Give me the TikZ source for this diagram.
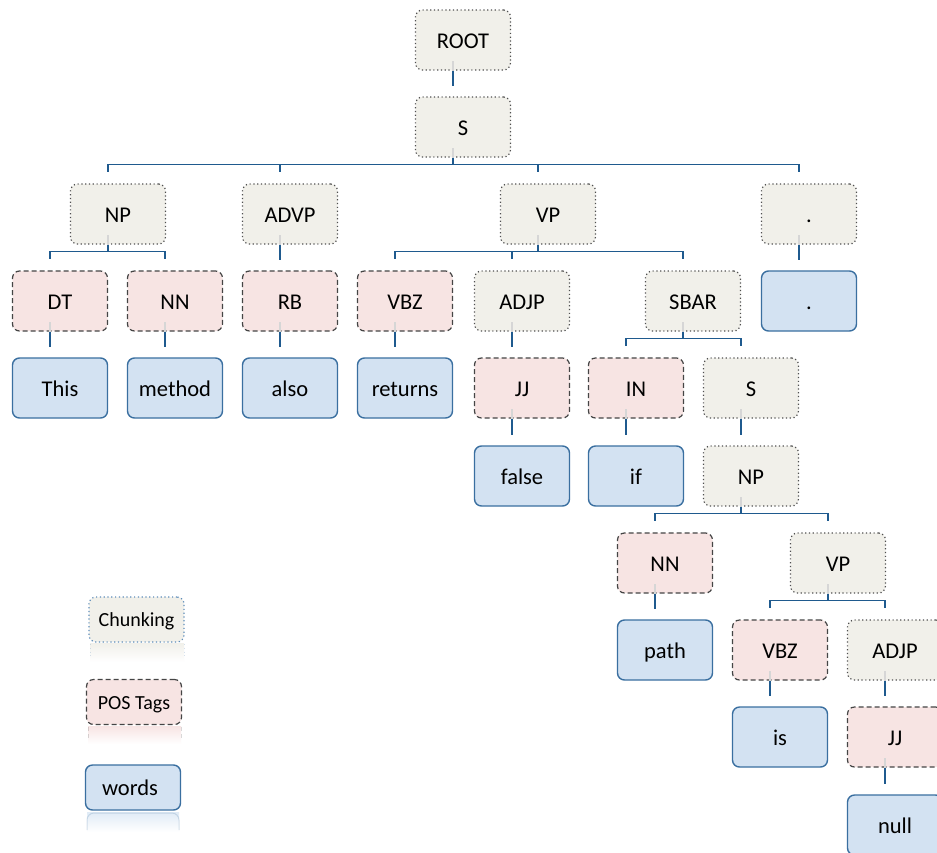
\documentclass[tikz,border=0pt]{standalone}
\usepackage{fontspec}
\setmainfont{Carlito}
\definecolor{chunkfill}{HTML}{F1F0EA}
\definecolor{chunkline}{HTML}{505050}
\definecolor{legendchunkline}{HTML}{5E8DBA}
\definecolor{posfill}{HTML}{F7E4E3}
\definecolor{posline}{HTML}{454545}
\definecolor{wordfill}{HTML}{D3E2F2}
\definecolor{wordline}{HTML}{3A6FA0}
\definecolor{connblue}{HTML}{1F5A8E}
\definecolor{tickgray}{HTML}{D6D6D6}
% one parent, one child: drop straight down
\newcommand\onechild[2]{%
  \draw[inner tick] ([xshift=-10pt]#1.south) -- ++(0,-10);
  \draw[conn] ([xshift=-10pt]#1.south) -- ([xshift=-10pt,yshift=10pt]#2.north);}
% one parent, several children: bar and ticks
\newcommand\kids[2]{%
  \draw[inner tick] ([xshift=-10pt]#1.south) -- ++(0,-10);
  \draw[conn] ([xshift=-10pt]#1.south) -- ++(0,7) coordinate (bar-#1);
  \foreach \kid in {#2}{\draw[conn] (bar-#1) -| ([xshift=-10pt,yshift=11pt]\kid.north);}}
\begin{document}
\begin{tikzpicture}[x=1pt,y=-1pt,
  box/.style={rectangle, rounded corners=7pt, minimum width=95pt, minimum height=60pt,
    inner sep=0pt, line width=1.2pt, text height=16pt, text depth=0pt,
    font=\fontsize{22.5}{27}\selectfont},
  chunkbox/.style={box, fill=chunkfill, draw=chunkline, dash pattern=on 1.2pt off 2.6pt},
  posbox/.style={box, fill=posfill, draw=posline, dash pattern=on 5pt off 3pt},
  wordbox/.style={box, fill=wordfill, draw=wordline, line width=1.4pt},
  legendbox/.style={minimum height=45pt, text height=14pt, font=\fontsize{20}{24}\selectfont},
  conn/.style={draw=connblue, line width=1.6pt},
  inner tick/.style={draw=tickgray, line width=1.6pt},
]
\useasboundingbox[fill=white] (0,0) rectangle (937,852);

% phrase tree
\node[chunkbox] (root) at (463,40) {ROOT};
\node[chunkbox] (s) at (463,127) {S};

\node[chunkbox] (np) at (118,214) {NP};
\node[chunkbox] (advp) at (290,214) {ADVP};
\node[chunkbox] (vp) at (548,214) {VP};
\node[chunkbox] (dotc) at (809,214) {.};

\node[posbox] (dt) at (60,301) {DT};
\node[posbox] (nn) at (175,301) {NN};
\node[posbox] (rb) at (290,301) {RB};
\node[posbox] (vbz) at (405,301) {VBZ};
\node[chunkbox] (adjp) at (522,301) {ADJP};
\node[chunkbox] (sbar) at (693,301) {SBAR};
\node[wordbox] (dotw) at (809,301) {.};

\node[wordbox] (this) at (60,388) {This};
\node[wordbox] (method) at (175,388) {method};
\node[wordbox] (also) at (290,388) {also};
\node[wordbox] (returns) at (405,388) {returns};
\node[posbox] (jj) at (522,388) {JJ};
\node[posbox] (in) at (636,388) {IN};
\node[chunkbox] (s2) at (751,388) {S};

\node[wordbox] (false) at (522,476) {false};
\node[wordbox] (if) at (636,476) {if};
\node[chunkbox] (np2) at (751,476) {NP};

\node[posbox] (nn2) at (665,563) {NN};
\node[chunkbox] (vp2) at (838,563) {VP};

\node[wordbox] (path) at (665,650) {path};
\node[posbox] (vbz2) at (780,650) {VBZ};
\node[chunkbox] (adjp2) at (895,650) {ADJP};

\node[wordbox] (is) at (780,737) {is};
\node[posbox] (jj2) at (895,737) {JJ};

\node[wordbox] (null) at (895,825) {null};

% connectors
\onechild{root}{s}
\kids{s}{np,advp,vp,dotc}
\kids{np}{dt,nn}
\onechild{advp}{rb}
\kids{vp}{vbz,adjp,sbar}
\onechild{dotc}{dotw}
\onechild{dt}{this}
\onechild{nn}{method}
\onechild{rb}{also}
\onechild{vbz}{returns}
\onechild{adjp}{jj}
\kids{sbar}{in,s2}
\onechild{jj}{false}
\onechild{in}{if}
\onechild{s2}{np2}
\kids{np2}{nn2,vp2}
\onechild{nn2}{path}
\kids{vp2}{vbz2,adjp2}
\onechild{vbz2}{is}
\onechild{adjp2}{jj2}
\onechild{jj2}{null}

% legend with faint reflections
\shade[top color=chunkfill, bottom color=white] (90,643) rectangle (184,662);
\draw[legendchunkline, opacity=0.25, line width=1pt, dash pattern=on 1.2pt off 2.6pt]
  (90,644) -- (90,656) (184,644) -- (184,656);
\shade[top color=posfill, bottom color=white] (88,726) rectangle (181,744);
\draw[posline, opacity=0.2, line width=1pt, dash pattern=on 4pt off 3pt]
  (88,727) -- (88,740) (181,727) -- (181,740);
\shade[top color=wordfill!70, bottom color=white] (87,812) rectangle (179,832);
\draw[wordline, opacity=0.2, line width=1pt, rounded corners=7pt]
  (87,830) -- (87,813) -- (179,813) -- (179,830);

\node[chunkbox, legendbox, draw=legendchunkline] (lgchunk) at (136.5,619.5) {Chunking};
\node[posbox, legendbox] (lgpos) at (134,702) {POS Tags};
\node[wordbox, legendbox, text height=16pt, font=\fontsize{22.5}{27}\selectfont]
  (lgword) at (133,787.5) {\hspace*{-6pt}words};
\end{tikzpicture}
\end{document}
